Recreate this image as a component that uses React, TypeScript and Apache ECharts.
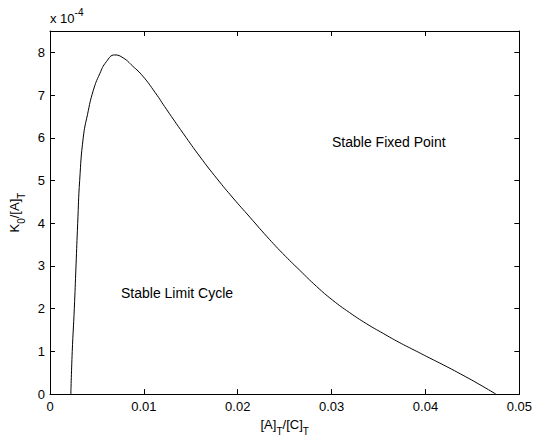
import React, { useEffect, useRef } from "react";
import * as echarts from "echarts";

// Boundary curve: x = [A]_T/[C]_T, y = K_0/[A]_T in units of 1e-4
const xVals = [0.00222, 0.00237, 0.00259, 0.00277, 0.00295, 0.00316, 0.00354, 0.0040, 0.0046, 0.0053, 0.0060, 0.0069, 0.0078, 0.0088, 0.0099, 0.0112, 0.0124, 0.0142, 0.0160, 0.0178, 0.0195, 0.0213, 0.0231, 0.0248, 0.0266, 0.0284, 0.0301, 0.0319, 0.0337, 0.0355, 0.0372, 0.0388, 0.0404, 0.0422, 0.0440, 0.0458, 0.0475];
const yVals = [0, 1, 2, 3, 4, 5, 6, 6.55, 7.1, 7.5, 7.78, 7.94, 7.87, 7.68, 7.44, 7.06, 6.67, 6.1, 5.55, 5.04, 4.59, 4.14, 3.69, 3.29, 2.9, 2.52, 2.2, 1.91, 1.65, 1.42, 1.21, 1.03, 0.85, 0.65, 0.44, 0.22, 0];

const annotations = ["Stable Fixed Point", "Stable Limit Cycle"];

const FONT = "'Liberation Sans', Arial, Helvetica, sans-serif";

export default function App() {
  const ref = useRef<HTMLDivElement>(null);
  useEffect(() => {
    if (!ref.current) return;
    const chart = echarts.init(ref.current, null, { renderer: "svg" });
    const data = xVals.map((x, i) => [x, yVals[i]]);
    const axisCommon = {
      axisLine: { show: true, onZero: false, lineStyle: { color: "#000", width: 1 } },
      axisTick: { show: true, inside: true, length: 5, lineStyle: { color: "#000" } },
      splitLine: { show: false },
    };
    const tickFont = { color: "#000", fontFamily: FONT, fontSize: 13 };
    const subRich = {
      n: { fontFamily: FONT, fontSize: 13, color: "#000", lineHeight: 16, verticalAlign: "top" },
      s: { fontFamily: FONT, fontSize: 10, color: "#000", lineHeight: 10, padding: [8, 0, 0, 0], verticalAlign: "top" },
    };
    chart.setOption({
      animation: false,
      grid: { left: 50, right: 15, top: 31, bottom: 41, containLabel: false },
      xAxis: [
        {
          type: "value", min: 0, max: 0.05, interval: 0.01, position: "bottom",
          ...axisCommon,
          axisLabel: { ...tickFont, margin: 6, formatter: (v: number) => String(+v.toFixed(4)) },
          name: "{n|[A]}{s|T}{n|/[C]}{s|T}",
          nameLocation: "middle", nameGap: 22,
          nameTextStyle: { rich: subRich },
        },
        {
          type: "value", min: 0, max: 0.05, interval: 0.01, position: "top",
          ...axisCommon, axisLabel: { show: false },
        },
      ],
      yAxis: [
        {
          type: "value", min: 0, max: 8.5, interval: 1, position: "left",
          ...axisCommon,
          axisLabel: { ...tickFont, margin: 5, showMaxLabel: false },
          name: "{n|K}{s|0}{n|/[A]}{s|T}",
          nameLocation: "middle", nameGap: 26, nameRotate: 90,
          nameTextStyle: { rich: subRich },
        },
        {
          type: "value", min: 0, max: 8.5, interval: 1, position: "right",
          ...axisCommon, axisLabel: { show: false },
        },
      ],
      series: [
        {
          type: "line", data, xAxisIndex: 0, yAxisIndex: 0,
          showSymbol: false, smooth: 0.5,
          lineStyle: { color: "#000", width: 1 },
        },
      ],
      graphic: [
        {
          type: "text", x: 50, y: 7,
          style: {
            text: "{n|x 10}{p|-4}",
            rich: {
              n: { fontFamily: FONT, fontSize: 13, fill: "#000", lineHeight: 16, padding: [5, 0, 0, 0], verticalAlign: "top" },
              p: { fontFamily: FONT, fontSize: 10, fill: "#000", lineHeight: 10, verticalAlign: "top" },
            },
          },
        },
        {
          type: "text", x: 332, y: 142,
          style: { text: annotations[0], fontFamily: FONT, fontSize: 14, fill: "#000", verticalAlign: "middle" },
        },
        {
          type: "text", x: 121, y: 293,
          style: { text: annotations[1], fontFamily: FONT, fontSize: 14, fill: "#000", verticalAlign: "middle" },
        },
      ],
    });
    return () => chart.dispose();
  }, []);
  return <div ref={ref} style={{ width: 535, height: 441, position: "absolute", left: 0, top: 0, background: "#fff" }} />;
}
